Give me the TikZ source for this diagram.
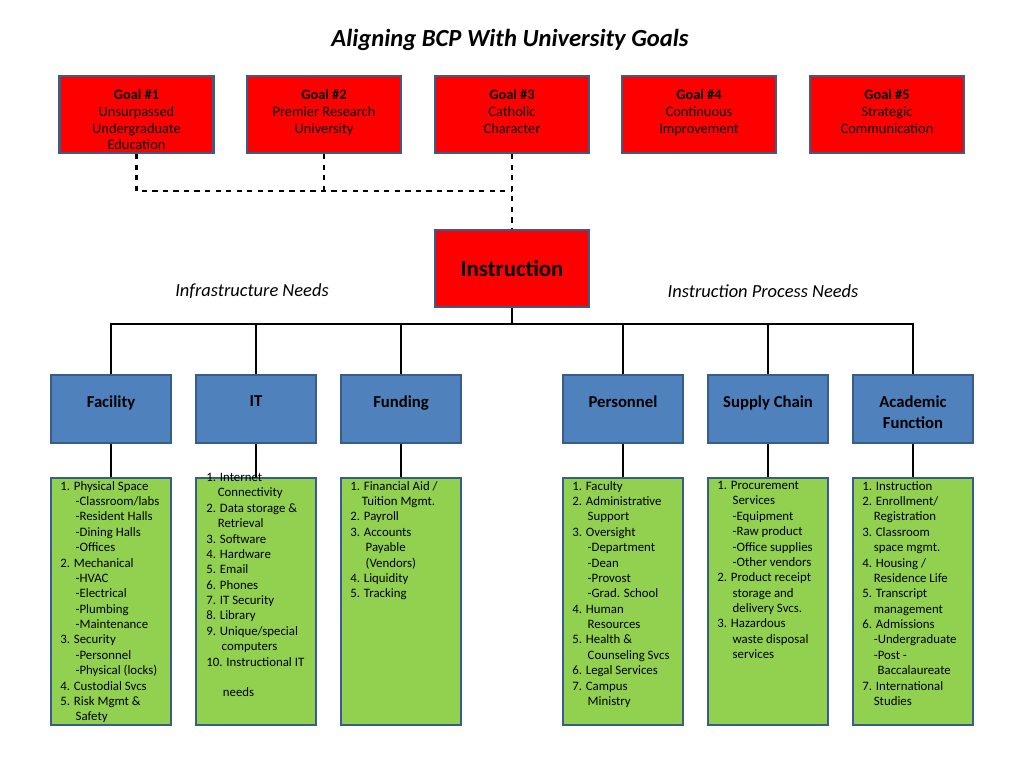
\documentclass[tikz,border=0pt]{standalone}
\usepackage{fontspec}
\setmainfont{Carlito}
\usetikzlibrary{positioning,calc}
\definecolor{goalred}{HTML}{FF0000}
\definecolor{edgeblue}{HTML}{385D8A}
\definecolor{needblue}{HTML}{4F81BD}
\definecolor{listgreen}{HTML}{92D050}
\tikzstyle{goal} = [draw=edgeblue, line width=1.2pt, fill=goalred, minimum width=154*0.02cm, minimum height=77*0.02cm, inner sep=0pt]
\tikzstyle{need} = [draw=edgeblue, line width=1.2pt, fill=needblue, minimum width=120*0.02cm, minimum height=68*0.02cm, inner sep=0pt]
\tikzstyle{list} = [draw=edgeblue, line width=1.2pt, fill=listgreen, minimum width=120*0.02cm, minimum height=247*0.02cm, inner sep=0pt]
\tikzstyle{gtext} = [font=\fontsize{8.2}{9.6}\selectfont, align=center, anchor=north]
\tikzstyle{ltext} = [font=\fontsize{7.3}{8.75}\selectfont, align=left, anchor=north west, inner sep=0pt]
\tikzstyle{line} = [draw, line width=1.3pt]
\newcommand{\ind}{\hspace*{1.2em}}
\newcommand{\inb}{\hspace*{0.9em}}
\begin{document}
\begin{tikzpicture}[x=0.02cm, y=-0.02cm]
\useasboundingbox (0,0) rectangle (1024,768);
\node[font=\fontsize{14}{16}\selectfont\bfseries\itshape] (title) at (510,40) {Aligning BCP With University Goals};
% goals
\node[goal] (g1) at (136.5,114.5) {};
\node[goal] (g2) at (324,114.5) {};
\node[goal] (g3) at (512,114.5) {};
\node[goal] (g4) at (699,114.5) {};
\node[goal] (g5) at (887,114.5) {};
\node[gtext] at (136.5,83) {\textbf{Goal \#1}\\Unsurpassed\\Undergraduate\\Education};
\node[gtext] at (324,83) {\textbf{Goal \#2}\\Premier Research\\University};
\node[gtext] at (512,83) {\textbf{Goal \#3}\\Catholic\\Character};
\node[gtext] at (699,83) {\textbf{Goal \#4}\\Continuous\\Improvement};
\node[gtext] at (887,83) {\textbf{Goal \#5}\\Strategic\\Communication};
% center
\node[goal, font=\fontsize{13}{15}\selectfont\bfseries] (instr) at (512,268.5) {Instruction};
\node[font=\fontsize{10.5}{12}\selectfont\itshape] (infra) at (252,291) {Infrastructure Needs};
\node[font=\fontsize{10.5}{12}\selectfont\itshape] (proc) at (763,291) {Instruction Process Needs};
\coordinate (dj) at (512,191);
\draw[line, dashed] (g1.south) |- (dj);
\draw[line, dashed] (g2.south) -- (g2.south |- dj);
\draw[line, dashed] (g3.south) -- (instr.north);
% needs
\node[need] (fac) at (111,409) {};
\node[need] (it) at (256,409) {};
\node[need] (fund) at (401,409) {};
\node[need] (pers) at (623,409) {};
\node[need] (sup) at (768,409) {};
\node[need] (acad) at (913,409) {};
\foreach \n/\t in {fac/Facility, it/IT, fund/Funding, pers/Personnel, sup/Supply Chain, acad/Academic\\Function}
  \node[font=\fontsize{9.5}{11.5}\selectfont\bfseries, align=center, anchor=north] at ($(\n.north)+(0,16)$) {\t};
\coordinate (bus) at (512,324);
\draw[line] (instr.south) -- (bus);
\draw[line] (fac.north) |- (acad.north |- bus) -- (acad.north);
\foreach \n in {it, fund, pers, sup}
  \draw[line] (\n.north) -- (\n.north |- bus);
% lists
\foreach \n/\x in {fac/111, it/256, fund/401, pers/623, sup/768, acad/913} {
  \node[list] (\n L) at (\x,601.5) {};
  \draw[line] (\n.south) -- (\n L.north);
}
\node[ltext] at ($(facL.north west)+(10,4)$) {1. Physical Space\\\ind-Classroom/labs\\\ind-Resident Halls\\\ind-Dining Halls\\\ind-Offices\\2. Mechanical\\\ind-HVAC\\\ind-Electrical\\\ind-Plumbing\\\ind-Maintenance\\3. Security\\\ind-Personnel\\\ind-Physical (locks)\\4. Custodial Svcs\\5. Risk Mgmt \&\\\ind Safety};
\node[ltext] at ($(itL.north west)+(11,-4)$) {1. Internet\\\inb Connectivity\\2. Data storage \&\\\inb Retrieval\\3. Software\\4. Hardware\\5. Email\\6. Phones\\7. IT Security\\8. Library\\9. Unique/special\\\ind computers\\10. Instructional IT\\[8.75pt]\hspace*{1.3em}needs};
\node[ltext] at ($(fundL.north west)+(10,4)$) {1. Financial Aid /\\\inb Tuition Mgmt.\\2. Payroll\\3. Accounts\\\ind Payable\\\ind (Vendors)\\4. Liquidity\\5. Tracking};
\node[ltext] at ($(persL.north west)+(10,4)$) {1. Faculty\\2. Administrative\\\ind Support\\3. Oversight\\\ind-Department\\\ind-Dean\\\ind-Provost\\\ind-Grad. School\\4. Human\\\ind Resources\\5. Health \&\\\ind Counseling Svcs\\6. Legal Services\\7. Campus\\\ind Ministry};
\node[ltext] at ($(supL.north west)+(10,4)$) {1. Procurement\\\ind Services\\\ind -Equipment\\\ind -Raw product\\\ind -Office supplies\\\ind -Other vendors\\2. Product receipt\\\ind storage and\\\ind delivery Svcs.\\3. Hazardous\\\ind waste disposal\\\ind services};
\node[ltext] at ($(acadL.north west)+(10,4)$) {1. Instruction\\2. Enrollment/\\\inb Registration\\3. Classroom\\\inb space mgmt.\\4. Housing /\\\inb Residence Life\\5. Transcript\\\inb management\\6. Admissions\\\inb -Undergraduate\\\inb -Post -\\\ind Baccalaureate\\7. International\\\inb Studies};
\end{tikzpicture}
\end{document}
